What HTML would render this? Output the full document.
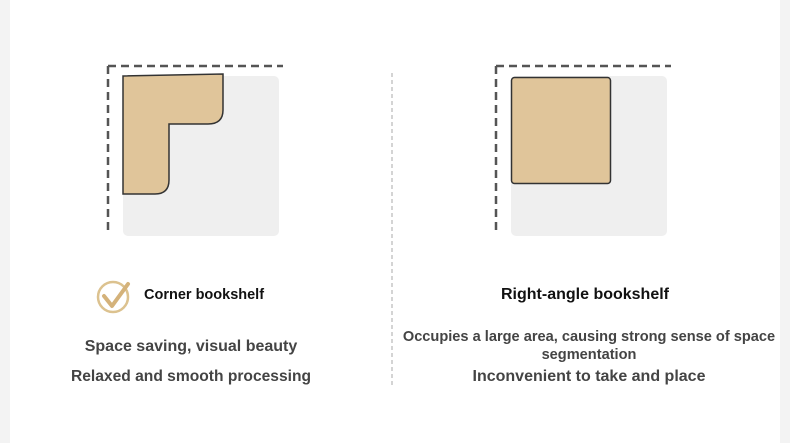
<!DOCTYPE html>
<html><head><style>
body{margin:0;width:790px;height:443px;background:#f3f3f3;font-family:"Liberation Sans",sans-serif;overflow:hidden}
.main{position:absolute;left:10px;top:0;width:770px;height:443px;background:#fff}
.t{position:absolute;font-weight:bold;white-space:nowrap;text-align:center}
</style></head><body>
<div class="main"></div>
<svg width="790" height="443" style="position:absolute;left:0;top:0">
<rect x="123" y="76" width="156" height="160" rx="5" fill="#efefef"/>
<path d="M108,66 H283 M108,66 V230" stroke="#555" stroke-width="2.5" stroke-dasharray="8,5" fill="none"/>
<path d="M123,76 L223,74 V110 Q223,124 208,124 H169 V180 Q169,194 155,194 H123 Z" fill="#e0c59a" stroke="#333" stroke-width="1.5"/>
<rect x="511" y="76" width="156" height="160" rx="5" fill="#efefef"/>
<path d="M496,66 H671 M496,66 V230" stroke="#555" stroke-width="2.5" stroke-dasharray="8,5" fill="none"/>
<rect x="511.5" y="77.5" width="99" height="106" rx="3" fill="#e0c59a" stroke="#333" stroke-width="1.5"/>
<line x1="392" y1="73" x2="392" y2="388" stroke="#aaa" stroke-dasharray="4,3"/>
<circle cx="113" cy="297" r="15" fill="none" stroke="#dcc28f" stroke-width="2.5"/>
<path d="M104,296 L112,306 L128,284" stroke="#d4b27a" stroke-width="4" fill="none" stroke-linecap="round" stroke-linejoin="round"/>
</svg>
<div class="t" style="left:144px;top:287px;font-size:14.5px;color:#111">Corner bookshelf</div>
<div class="t" style="left:40px;width:302px;top:338px;font-size:16px;color:#444">Space saving, visual beauty</div>
<div class="t" style="left:40px;width:302px;top:368px;font-size:15.6px;color:#444">Relaxed and smooth processing</div>
<div class="t" style="left:435px;width:300px;top:286px;font-size:16px;color:#111">Right-angle bookshelf</div>
<div class="t" style="left:389px;width:400px;top:328px;font-size:14.6px;color:#444;line-height:18px">Occupies a large area, causing strong sense of space<br>segmentation</div>
<div class="t" style="left:439px;width:300px;top:368px;font-size:16px;color:#444">Inconvenient to take and place</div>
</body></html>
